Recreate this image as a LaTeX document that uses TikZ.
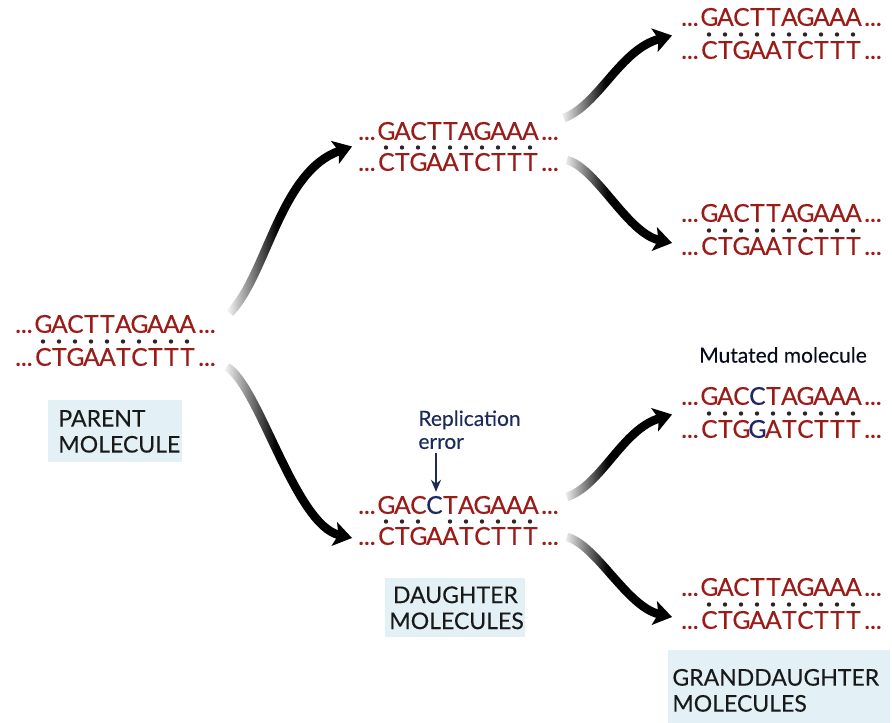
\documentclass[tikz,border=0pt]{standalone}
\usepackage{fontspec}
\setmainfont{Lato}
\usepackage{tikz}
\usetikzlibrary{positioning, arrows.meta, calc, fadings}
\definecolor{dna_red}{HTML}{9A1C18}
\definecolor{mut_blue}{HTML}{1E2866}
\definecolor{dot_dark}{HTML}{2E2424}
\definecolor{label_bg}{HTML}{E3F0F6}
\definecolor{note_blue}{HTML}{1C2A5C}
% sfumatura delle frecce: trasparente all'inizio, piena da circa un terzo
\pgfdeclarehorizontalshading{arrow_shade}{100bp}{color(0bp)=(pgftransparent!100); color(25bp)=(pgftransparent!100); color(45bp)=(pgftransparent!0); color(100bp)=(pgftransparent!0)}
\tikzfading[name=arrow_fade, shading=arrow_shade]
% un filamento: puntini, basi in caselle fisse, puntini
\newcommand{\seq}[1]{\makebox[11.5pt]{...}\foreach \ch in {#1}{\makebox[8pt]{\ch}}\makebox[11.5pt]{...}}
\newcommand{\mut}[1]{\textcolor{mut_blue}{#1}}

\begin{document}
\begin{tikzpicture}[
    x=0.5pt, y=-0.5pt,
    % Stili per filamenti ed etichette
    strand/.style = {
        inner sep=0,
        anchor=west,
        text=dna_red,
        font=\fontsize{12.3}{13}\selectfont\addfontfeatures{FakeBold=0.35},
        text height=8.8pt,
        text depth=0pt
    },
    base_dot/.style = {fill=dot_dark},
    mol_label/.style = {
        fill=label_bg,
        anchor=north west,
        text=black!90,
        font=\fontsize{11.5}{13}\selectfont\addfontfeatures{FakeBold=0.2},
        inner xsep=5pt,
        inner ysep=4pt
    },
    branch/.style = {
        line width=4.3pt,
        path fading=arrow_fade,
        -{Stealth[length=9pt, width=12pt, inset=2pt]}
    },
    note/.style = {
        text=note_blue,
        font=\fontsize{10.5}{11.5}\selectfont\addfontfeatures{FakeBold=0.2},
        inner sep=0
    }
]
\useasboundingbox (0,0) rectangle (892,722);

% 1. Molecola madre
\node[strand] (par1) at (12,324) {\seq{G,A,C,T,T,A,G,A,A,A}};
\node[strand] (par2) at (12,357) {\seq{C,T,G,A,A,T,C,T,T,T}};
\foreach \i in {1,...,10}
    \fill[base_dot] ($(par1.west)!0.5!(par2.west)+(15+16*\i,1)$) circle (1.1pt);
\node[mol_label, text width=57pt, align=left, minimum height=31pt] (par_lab) at (48,400) {PARENT\\MOLECULE};

% 2. Molecole figlie
\node[strand] (dt1) at (355,131) {\seq{G,A,C,T,T,A,G,A,A,A}};
\node[strand] (dt2) at (355,162) {\seq{C,T,G,A,A,T,C,T,T,T}};
\foreach \i in {1,...,10}
    \fill[base_dot] ($(dt1.west)!0.5!(dt2.west)+(15+16*\i,1)$) circle (1.1pt);

\node[strand] (dm1) at (355,505) {\seq{G,A,C,\mut{C},T,A,G,A,A,A}};
\node[strand] (dm2) at (355,536) {\seq{C,T,G,A,A,T,C,T,T,T}};
\foreach \i in {1,2,3,5,6,7,8,9,10}
    \fill[base_dot] ($(dm1.west)!0.5!(dm2.west)+(15+16*\i,1)$) circle (1.1pt);
\node[mol_label, text width=66pt, align=center, inner xsep=2pt, minimum height=29pt] (dau_lab) at (385,578) {DAUGHTER\\MOLECULES};

% Errore di replicazione
\node[note, anchor=north west, align=left] (rep) at (418,410) {Replication\\error};
\coordinate (mut_top) at ($(dm1.north west)+(81,-4)$);
\draw[note_blue, line width=0.9pt, -{Stealth[length=6pt, width=5pt]}] (rep.south -| mut_top) ++(0,4) -- (mut_top);

% 3. Molecole nipoti
\node[strand] (g11) at (678,17) {\seq{G,A,C,T,T,A,G,A,A,A}};
\node[strand] (g12) at (678,50) {\seq{C,T,G,A,A,T,C,T,T,T}};
\node[strand] (g21) at (678,213) {\seq{G,A,C,T,T,A,G,A,A,A}};
\node[strand] (g22) at (678,246) {\seq{C,T,G,A,A,T,C,T,T,T}};
\node[strand] (g31) at (678,396) {\seq{G,A,C,\mut{C},T,A,G,A,A,A}};
\node[strand] (g32) at (678,429) {\seq{C,T,G,\mut{G},A,T,C,T,T,T}};
\node[strand] (g41) at (678,587) {\seq{G,A,C,T,T,A,G,A,A,A}};
\node[strand] (g42) at (678,620) {\seq{C,T,G,A,A,T,C,T,T,T}};
\foreach \g in {g1,g2,g3,g4}
    \foreach \i in {1,...,10}
        \fill[base_dot] ($(\g1.west)!0.5!(\g2.west)+(15+16*\i,1)$) circle (1.1pt);
\node[note, text=black!70!note_blue] (mut_lab) at (783,355) {Mutated molecule};
\node[mol_label, text width=107pt, align=left, inner xsep=2pt, minimum height=40pt] (gd_lab) at (668,650) {GRANDDAUGHTER\\MOLECULES};

% 4. Frecce di replicazione
\coordinate (par_up) at ($(par1.east)+(11,-11)$);
\coordinate (par_dn) at ($(par2.east)+(8,10)$);
\coordinate (dt_in) at ($(dt1.west)!0.5!(dt2.west)+(-3,0)$);
\coordinate (dm_in) at ($(dm2.west)+(-3,2)$);
\draw[branch] (par_up) .. controls +(37,-38) and +(-72,25) .. (dt_in);
\draw[branch] (par_dn) .. controls +(32,18) and +(-57,-13) .. (dm_in);

\coordinate (dt_up) at ($(dt1.east)+(2,-13)$);
\coordinate (dt_dn) at ($(dt2.east)+(5,-2)$);
\coordinate (dm_up) at ($(dm1.east)+(5,-8)$);
\coordinate (dm_dn) at ($(dm2.east)+(5,1)$);
\coordinate (g1_in) at ($(g11.west)!0.5!(g12.west)+(-6,2)$);
\coordinate (g2_in) at ($(g22.west)+(-6,-3)$);
\coordinate (g3_in) at ($(g31.west)!0.5!(g32.west)+(-6,2)$);
\coordinate (g4_in) at ($(g42.west)+(-6,-3)$);
\draw[branch] (dt_up) .. controls +(35,-13) and +(-52,14) .. (g1_in);
\draw[branch] (dt_dn) .. controls +(30,8) and +(-45,-10) .. (g2_in);
\draw[branch] (dm_up) .. controls +(35,-12) and +(-50,15) .. (g3_in);
\draw[branch] (dm_dn) .. controls +(30,8) and +(-45,-10) .. (g4_in);

\end{tikzpicture}
\end{document}
